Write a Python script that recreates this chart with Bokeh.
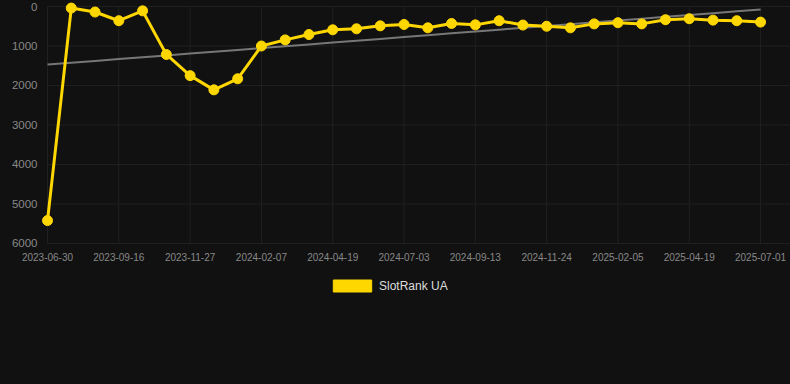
import numpy as np
from bokeh.plotting import figure
from bokeh.models import Range1d, FixedTicker, Legend, LegendItem, ColumnDataSource
from bokeh.embed import file_html
from bokeh.resources import INLINE

# ---- data ----
ranks = [5420, 40, 140, 360, 110, 1215, 1750, 2110, 1830, 1000,
         845, 710, 590, 565, 490, 455, 540, 430, 465, 360,
         470, 500, 540, 440, 410, 440, 335, 310, 345, 360, 395]
tick_labels = ["2023-06-30", "2023-09-16", "2023-11-27", "2024-02-07",
               "2024-04-19", "2024-07-03", "2024-09-13", "2024-11-24",
               "2025-02-05", "2025-04-19", "2025-07-01"]
tick_step = 3
y_ticks = [0, 1000, 2000, 3000, 4000, 5000, 6000]
series_name = "SlotRank UA"

# ---- derived ----
x = np.arange(len(ranks))
slope, intercept = np.polyfit(x, ranks, 1)
trend = slope * x + intercept
tick_idx = [i * tick_step for i in range(len(tick_labels))]

FONT = "Liberation Sans"
BG = "#111111"
GOLD = "#FFD700"
GRID = "#202020"

X_END = 31.26
p = figure(width=790, height=384, output_backend="svg", toolbar_location=None,
           x_range=Range1d(-1.978, X_END), y_range=Range1d(9570, -152),
           min_border_left=0, min_border_right=0, min_border_top=0,
           min_border_bottom=0,
           background_fill_color=BG, border_fill_color=BG,
           outline_line_color=None)

# axes drawn inside the frame at fixed data locations
p.xaxis.ticker = FixedTicker(ticks=tick_idx)
p.xaxis.major_label_overrides = {i: l for i, l in zip(tick_idx, tick_labels)}
p.xaxis.fixed_location = y_ticks[-1]
p.yaxis.ticker = FixedTicker(ticks=y_ticks)
p.yaxis.fixed_location = 0
for ax in (p.xaxis, p.yaxis):
    ax.axis_line_color = None
    ax.major_tick_line_color = None
    ax.minor_tick_line_color = None
    ax.major_tick_out = 0
    ax.major_tick_in = 0
    ax.minor_tick_out = 0
    ax.major_label_text_color = "#888888"
    ax.major_label_text_font = FONT
p.xaxis.major_label_text_font_size = "10px"
p.xaxis.major_label_standoff = 10
p.yaxis.major_label_text_font_size = "11.5px"
p.yaxis.major_label_standoff = 10

# grid lines from the tick lists
p.xgrid.visible = False
p.ygrid.visible = False
p.segment(x0=[0] * len(y_ticks), x1=[X_END] * len(y_ticks), y0=y_ticks, y1=y_ticks,
          line_color=GRID, line_width=1)
p.segment(x0=tick_idx, x1=tick_idx, y0=[y_ticks[0]] * len(tick_idx),
          y1=[y_ticks[-1]] * len(tick_idx), line_color=GRID, line_width=1)

src = ColumnDataSource(dict(x=x, rank=ranks, trend=trend))

p.line("x", "trend", source=src, line_color="#777777", line_width=2)
p.line("x", "rank", source=src, line_color=GOLD, line_width=3)
p.scatter("x", "rank", source=src, size=10, fill_color=GOLD, line_color=GOLD)

dummy = p.quad(left=[np.nan], right=[np.nan], top=[np.nan], bottom=[np.nan],
               fill_color=GOLD, line_color=GOLD)

legend = Legend(items=[LegendItem(label=series_name, renderers=[dummy])],
                location=(328, 91), orientation="horizontal",
                glyph_width=48, glyph_height=15, label_height=15,
                label_standoff=3, padding=0, margin=0, spacing=0,
                border_line_color=None, background_fill_alpha=0,
                label_text_font=FONT, label_text_font_size="12px",
                label_text_color="#dddddd")
p.add_layout(legend)

html = file_html(p, INLINE)
html = html.replace("</head>",
                    "<style>html,body{margin:0;padding:0;background:#111111;}</style></head>", 1)
open("out.html", "w").write(html)
